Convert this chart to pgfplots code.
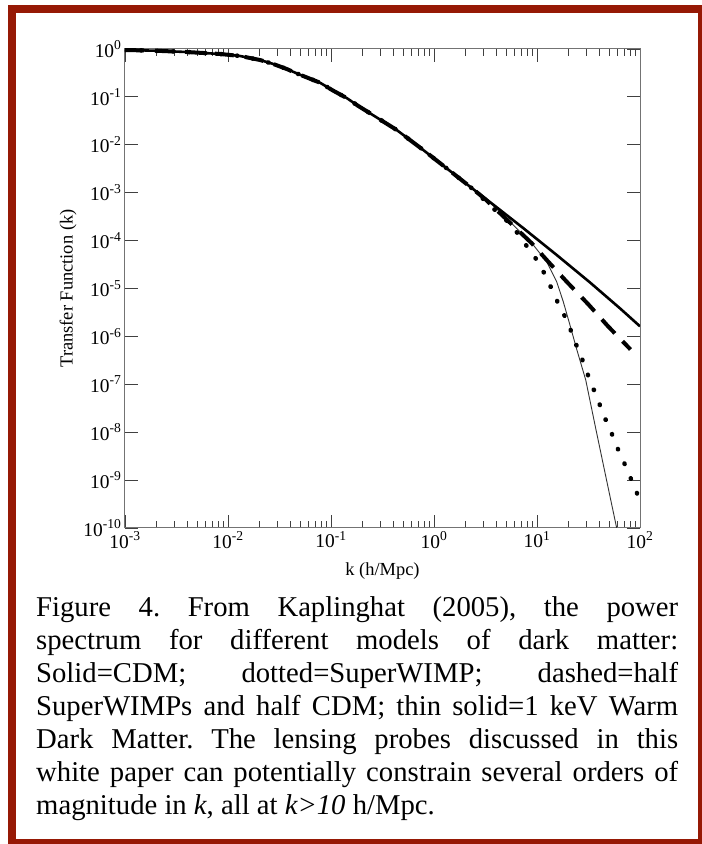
\documentclass[border=0pt]{standalone}
\usepackage{fontspec}
\setmainfont{Liberation Serif}
\usepackage{pgfplots}
\pgfplotsset{compat=1.18}
\definecolor{framered}{RGB}{150,25,5}

\begin{document}
\begin{tikzpicture}[x=1bp,y=1bp]
\useasboundingbox (0,0) rectangle (702,844);
\fill[white] (0,0) rectangle (702,844);
\draw[framered, line width=8.5bp] (12,1) rectangle (702.7,835);

\begin{axis}[
    at={(125bp,316bp)}, anchor=south west,
    scale only axis, width=515bp, height=479bp,
    xmode=log, ymode=log,
    xmin=1e-3, xmax=1e2, ymin=1e-10, ymax=1,
    xtick={1e-3,1e-2,1e-1,1,10,100},
    xticklabels={10\textsuperscript{-3},10\textsuperscript{-2},10\textsuperscript{-1},10\textsuperscript{0},10\textsuperscript{1},10\textsuperscript{2}},
    minor xtick={2e-3,3e-3,4e-3,5e-3,6e-3,7e-3,8e-3,9e-3,2e-2,3e-2,4e-2,5e-2,6e-2,7e-2,8e-2,9e-2,0.2,0.3,0.4,0.5,0.6,0.7,0.8,0.9,2,3,4,5,6,7,8,9,20,30,40,50,60,70,80,90},
    ytick={1e-10,1e-9,1e-8,1e-7,1e-6,1e-5,1e-4,1e-3,1e-2,1e-1,1},
    yticklabels={10\textsuperscript{-10},10\textsuperscript{-9},10\textsuperscript{-8},10\textsuperscript{-7},10\textsuperscript{-6},10\textsuperscript{-5},10\textsuperscript{-4},10\textsuperscript{-3},10\textsuperscript{-2},10\textsuperscript{-1},10\textsuperscript{0}},
    major tick length=13bp, minor tick length=7bp,
    every tick/.style={black!75, line width=0.9bp},
    minor y tick style={draw=none},
    axis line style={black!55, line width=1bp},
    tick label style={font=\fontsize{19.5}{20}\selectfont},
    xlabel={k (h/Mpc)},
    ylabel={Transfer Function (k)},
    every axis x label/.style={at={(axis description cs:0.5,-0.0898)}, anchor=center,
        font=\fontsize{18.5}{20}\selectfont},
    every axis y label/.style={at={(axis description cs:-0.1107,0.5)}, anchor=center,
        rotate=90, font=\fontsize{18.5}{20}\selectfont},
]
% thin solid: 1 keV warm dark matter
\addplot[black!80, line width=0.9bp] coordinates {
(0.001,0.953) (0.001884,0.923) (0.003972,0.865) (0.008356,0.787) (0.01309,0.714)
(0.02046,0.589) (0.02754,0.486) (0.03715,0.382) (0.05,0.290) (0.07816,0.198)
(0.1052,0.1346) (0.1419,0.0948) (0.1841,0.0646) (0.2393,0.0455) (0.4345,0.02037)
(0.787,0.00778) (1.327,0.003228) (2.239,0.001334) (3.548,6.026e-4) (5.470,2.483e-4)
(9.204,8.091e-5) (12.42,3.622e-5) (15.52,1.387e-5) (17.99,5.297e-6) (20.89,1.730e-6)
(24.15,5.623e-7) (29.72,1.230e-7) (37.41,1.117e-8) (47.32,1.005e-9) (59.43,9.863e-11)
(63.10,5.37e-11)
};
% dotted: SuperWIMP
\addplot[black, line width=4.5bp, line cap=round, dash pattern=on 0.5bp off 15.5bp] coordinates {
(0.001,0.953) (0.001884,0.923) (0.003972,0.865) (0.008356,0.787) (0.01309,0.714)
(0.02046,0.589) (0.02754,0.486) (0.03715,0.382) (0.05,0.290) (0.07816,0.198)
(0.1052,0.1346) (0.1419,0.0948) (0.1841,0.0646) (0.2393,0.0455) (0.4345,0.02037)
(0.787,0.00778) (1.327,0.003228) (2.239,0.001334) (3.846,4.498e-4) (5.000,2.692e-4)
(6.501,1.419e-4) (7.943,7.709e-5) (9.886,4.027e-5) (11.78,2.075e-5) (13.68,1.050e-5)
(15.89,5.152e-6) (18.71,2.576e-6) (21.38,1.297e-6) (24.27,6.310e-7) (27.80,3.112e-7)
(31.48,1.489e-7) (35.89,7.345e-8) (40.93,3.606e-8) (46.77,1.754e-8) (53.83,8.750e-9)
(61.52,4.246e-9) (71.45,2.099e-9) (81.85,1.054e-9) (94.19,5.129e-10) (100,3.802e-10)
};
% dashed: half SuperWIMPs, half CDM
\addplot[black, line width=4bp, dash pattern=on 19bp off 11bp] coordinates {
(0.001,0.953) (0.001884,0.923) (0.003972,0.865) (0.008356,0.787) (0.01309,0.714)
(0.02046,0.589) (0.02754,0.486) (0.03715,0.382) (0.05,0.290) (0.07816,0.198)
(0.1052,0.1346) (0.1419,0.0948) (0.1841,0.0646) (0.2393,0.0455) (0.4345,0.02037)
(0.787,0.00778) (1.327,0.003228) (2.239,0.001334) (3.162,7.244e-4) (6.501,1.663e-4)
(8.892,8.79e-5) (12.42,3.936e-5) (19.41,1.387e-5) (31.48,4.677e-6) (48.98,1.622e-6)
(80.91,5.333e-7)
};
% solid: CDM
\addplot[black, line width=2.6bp] coordinates {
(0.001,0.953) (0.001884,0.923) (0.003972,0.865) (0.008356,0.787) (0.01309,0.714)
(0.02046,0.589) (0.02754,0.486) (0.03715,0.382) (0.05,0.290) (0.07816,0.198)
(0.1052,0.1346) (0.1419,0.0948) (0.1841,0.0646) (0.2393,0.0455) (0.4345,0.02037)
(0.787,0.00778) (1.327,0.003228) (2.239,0.001334) (3.981,5.129e-4) (7.362,1.820e-4)
(15.52,5.012e-5) (32.73,1.334e-5) (63.97,3.846e-6) (100,1.622e-6)
};
\end{axis}

\node[anchor=base west, inner sep=0pt] at (36,227.5) {\parbox[t]{642bp}{%
\fontsize{28.8}{33.2}\selectfont\frenchspacing
Figure 4. From Kaplinghat (2005), the power\linebreak
spectrum for different models of dark matter:\linebreak
Solid=CDM; dotted=SuperWIMP; dashed=half\linebreak
SuperWIMPs and half CDM; thin solid=1 keV Warm\linebreak
Dark Matter. The lensing probes discussed in this\linebreak
white paper can potentially constrain several orders of\linebreak
magnitude in \textit{k}, all at \textit{k>10} h/Mpc.}};
\end{tikzpicture}
\end{document}
